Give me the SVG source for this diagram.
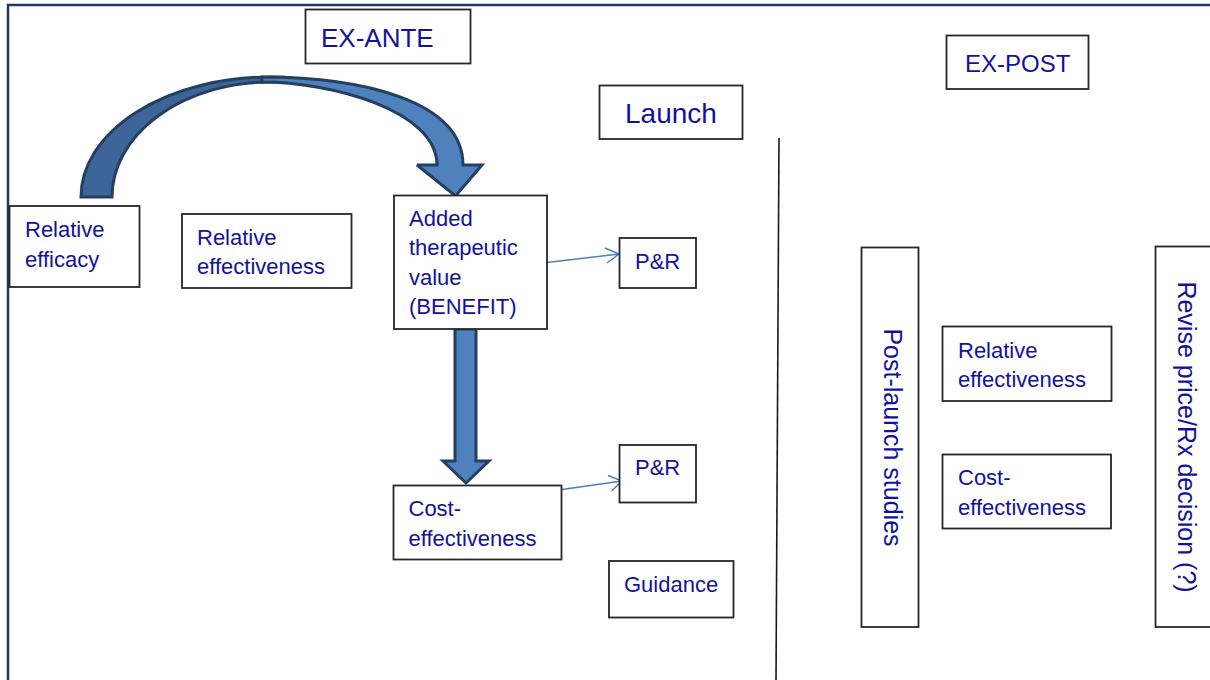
<svg xmlns="http://www.w3.org/2000/svg" width="1210" height="680" viewBox="0 0 1210 680">
<style>
.box{fill:#fff;stroke:#262626;stroke-width:1.8}
.t{font-family:"Liberation Sans",Arial,sans-serif;font-size:22px;fill:#12129c}
.big{font-family:"Liberation Sans",Arial,sans-serif;fill:#12129c}
.thin{fill:none;stroke:#4a7ebb;stroke-width:1.4}
.fat{stroke:#243f60;stroke-width:3;stroke-linejoin:miter;stroke-miterlimit:3}
</style>
<rect width="1210" height="680" fill="#fff"/>
<path d="M8,681 L8,5 L1211,5" fill="none" stroke="#1f3864" stroke-width="2.5"/>
<line x1="779" y1="138" x2="776" y2="681" stroke="#1a1a1a" stroke-width="1.6"/>

<g id="ex-ante"><rect class="box" x="305.5" y="9.5" width="165" height="54"/><text class="big" x="321" y="47" font-size="26">EX-ANTE</text></g>
<g id="launch"><rect class="box" x="599.5" y="85.5" width="143" height="53.5"/><text class="big" x="625" y="123" font-size="28">Launch</text></g>
<g id="ex-post"><rect class="box" x="946.5" y="35.5" width="142" height="53.5"/><text class="big" x="965" y="72" font-size="24">EX-POST</text></g>

<g id="connectors">
<path class="fat" fill="#3d6597" d="M81,197 A189 120 0 0 1 270,77 C290,77 300,78 300,80 C290,82 280,82 270,82 A158 115 0 0 0 112,197 Z"/>
<path class="fat" fill="#4f81bd" d="M262,77 C360,77 463,100 463,165 L482,165 L455.5,196 L417,165 L437,165 C437,110 330,82 262,82 Z"/>
<path class="fat" fill="#4f81bd" d="M455,329 L476,329 L476,461 L489,461 L466,483 L443,461 L455,461 Z"/>
<path class="thin" d="M547,262.5 L619,254 M605,248 L619,254 L607,263"/>
<path class="thin" d="M562,489.5 L622,481 M608,475.5 L622,481 L611.5,491"/>
</g>

<g id="relative-efficacy"><rect class="box" x="9.5" y="206" width="130" height="81"/><text class="t" x="25" y="237">Relative</text><text class="t" x="25" y="266.5">efficacy</text></g>
<g id="relative-effectiveness"><rect class="box" x="182" y="214" width="169.5" height="74"/><text class="t" x="197" y="244.5">Relative</text><text class="t" x="197" y="274">effectiveness</text></g>
<g id="added-value"><rect class="box" x="394" y="195.5" width="153" height="133.5"/><text class="t" x="409" y="226">Added</text><text class="t" x="409" y="255">therapeutic</text><text class="t" x="409" y="285">value</text><text class="t" x="409" y="314">(BENEFIT)</text></g>
<g id="pr1"><rect class="box" x="619.5" y="238" width="76.5" height="50"/><text class="t" x="635" y="268.5">P&amp;R</text></g>
<g id="pr2"><rect class="box" x="619.5" y="445" width="76.5" height="57.5"/><text class="t" x="635" y="475">P&amp;R</text></g>
<g id="cost-effectiveness"><rect class="box" x="393.5" y="485.5" width="168" height="74"/><text class="t" x="408.5" y="516">Cost-</text><text class="t" x="408.5" y="545.5">effectiveness</text></g>
<g id="guidance"><rect class="box" x="609" y="561" width="124.5" height="56.5"/><text class="t" x="624" y="591.5">Guidance</text></g>

<g id="post-launch"><rect class="box" x="861.5" y="247.5" width="57" height="379.5"/><text class="big" font-size="25" text-anchor="middle" transform="translate(884,437.5) rotate(90)">Post-launch studies</text></g>
<g id="post-relative"><rect class="box" x="942.5" y="326.5" width="169" height="74.5"/><text class="t" x="958" y="357.5">Relative</text><text class="t" x="958" y="387">effectiveness</text></g>
<g id="post-cost"><rect class="box" x="942.5" y="454.5" width="168.5" height="74"/><text class="t" x="958" y="485">Cost-</text><text class="t" x="958" y="514.5">effectiveness</text></g>
<g id="revise"><rect class="box" x="1155.5" y="246.5" width="60" height="380.5"/><text class="big" font-size="25" text-anchor="middle" transform="translate(1178,437) rotate(90)">Revise price/Rx decision (?)</text></g>
</svg>
